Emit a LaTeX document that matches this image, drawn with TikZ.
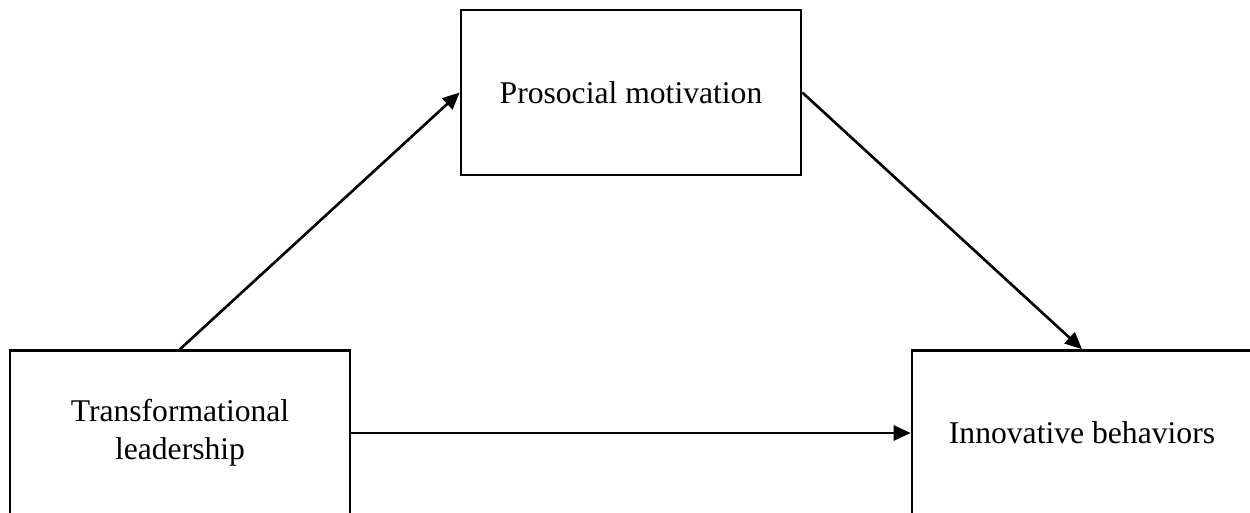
\documentclass[tikz,border=0pt]{standalone}
\usepackage{fontspec}
\setmainfont{Liberation Serif}
\usetikzlibrary{positioning,arrows.meta}
\tikzset{%
construct/.style={draw,rectangle,line width=1.5pt,minimum width=6.8cm,minimum height=3.3cm,align=center,font=\fontsize{18}{21.6}\selectfont},
path/.style={line width=1.5pt,-{Triangle[length=0.34cm,width=0.3cm]}}
}
\begin{document}
\begin{tikzpicture}[x=0.02cm,y=-0.02cm]

    \useasboundingbox (0,0) rectangle (1250,513);
    \clip (0,0) rectangle (1250,513);

    \node[construct] (lead) at (180,433) {Transformational\\leadership};
    \node[construct] (pro) at (631,92.5) {Prosocial motivation};
    \node[construct] (innov) at (1082,433) {Innovative behaviors};

    \path[path] (lead.north) edge (pro.west)
                (lead.east) edge (innov.west)
                (pro.east) edge (innov.north);
  \end{tikzpicture}
\end{document}
